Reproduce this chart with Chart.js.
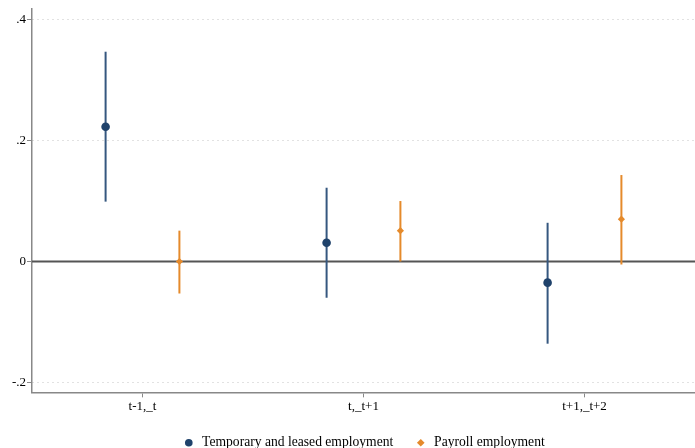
<!DOCTYPE html>
<html>
<head>
<meta charset="utf-8">
<script src="https://cdn.jsdelivr.net/npm/chart.js@4"></script>
<style>
  html, body { margin: 0; padding: 0; background: #fff; }
  #wrap { width: 695px; height: 448px; }
</style>
</head>
<body>
<div id="wrap"><canvas id="myChart"></canvas></div>
<script>
const categories = ['t-1,_t', 't,_t+1', 't+1,_t+2'];
const tempEst = [0.223, 0.031, -0.035];
const tempLo = [0.099, -0.060, -0.136];
const tempHi = [0.347, 0.122, 0.064];
const payEst = [0.000, 0.051, 0.070];
const payLo = [-0.053, 0.000, -0.005];
const payHi = [0.051, 0.100, 0.143];
const yTicks = [-0.2, 0, 0.2, 0.4];

const navy = '#1f426b';
const navyLine = '#35577f';
const orange = '#e58a2b';
const shift = 0.167;

function pts(est, off) {
    return est.map((v, i) => ({ x: i + 1 + off, y: v }));
}

// error bars + zero line, drawn under the points
const ciPlugin = {
    id: 'ci',
    beforeDatasetsDraw(chart) {
        const c = chart.ctx, xs = chart.scales.x, ys = chart.scales.y, a = chart.chartArea;
        c.save();
        c.strokeStyle = '#555';
        c.lineWidth = 2;
        c.beginPath();
        c.moveTo(a.left, ys.getPixelForValue(0));
        c.lineTo(a.right, ys.getPixelForValue(0));
        c.stroke();
        const bars = [[tempLo, tempHi, -shift, navyLine], [payLo, payHi, shift, orange]];
        bars.forEach(([lo, hi, off, col]) => {
            c.strokeStyle = col;
            c.lineWidth = 2;
            lo.forEach((l, i) => {
                const px = xs.getPixelForValue(i + 1 + off);
                c.beginPath();
                c.moveTo(px, ys.getPixelForValue(l));
                c.lineTo(px, ys.getPixelForValue(hi[i]));
                c.stroke();
            });
        });
        c.restore();
    }
};

const font = { family: '"Liberation Serif", "Times New Roman", serif', size: 13 };

new Chart(document.getElementById('myChart').getContext('2d'), {
    type: 'scatter',
    data: {
        datasets: [{
            label: 'Temporary and leased employment',
            data: pts(tempEst, -shift),
            backgroundColor: navy,
            borderColor: navy,
            pointStyle: 'circle',
            pointRadius: 4.3,
            pointBorderWidth: 0,
            pointHoverRadius: 4.3
        }, {
            label: 'Payroll employment',
            data: pts(payEst, shift),
            backgroundColor: orange,
            borderColor: orange,
            pointStyle: 'rectRot',
            pointRadius: 3.6,
            pointBorderWidth: 0,
            pointHoverRadius: 3.6
        }]
    },
    options: {
        responsive: true,
        maintainAspectRatio: false,
        animation: false,
        layout: { autoPadding: false, padding: { top: 8, right: 0, left: 0, bottom: 0 } },
        plugins: {
            tooltip: { enabled: false },
            legend: {
                position: 'bottom',
                fullSize: false,
                maxHeight: 33,
                labels: {
                    usePointStyle: true,
                    boxWidth: 13,
                    boxHeight: 5.4,
                    padding: 21,
                    color: '#000',
                    font: { family: font.family, size: 13.6 }
                }
            }
        },
        scales: {
            x: {
                type: 'linear',
                min: 0.5,
                max: 3.5,
                afterBuildTicks: s => { s.ticks = categories.map((c, i) => ({ value: i + 1 })); },
                ticks: {
                    color: '#000',
                    font: { family: font.family, size: 13, lineHeight: 1.05 },
                    padding: 2,
                    callback: (v) => categories[v - 1]
                },
                grid: { display: true, drawOnChartArea: false, tickLength: 5, color: '#888', lineWidth: 1 },
                border: { color: '#888', width: 1.5 }
            },
            y: {
                min: -0.2165,
                max: 0.418,
                afterBuildTicks: s => { s.ticks = yTicks.map(v => ({ value: v })); },
                afterFit: s => { s.width = 32; },
                ticks: {
                    color: '#000',
                    font: font,
                    padding: 1,
                    callback: (v) => v === 0 ? '0' : (v < 0 ? '-' : '') + String(Math.abs(v)).replace(/^0/, '')
                },
                grid: { color: '#c4c4c4', lineWidth: 1, tickLength: 5, tickColor: '#888', tickBorderDash: [] },
                border: { color: '#888', width: 1.5, dash: [1, 4] }
            }
        }
    },
    plugins: [ciPlugin]
});
</script>
</body>
</html>
